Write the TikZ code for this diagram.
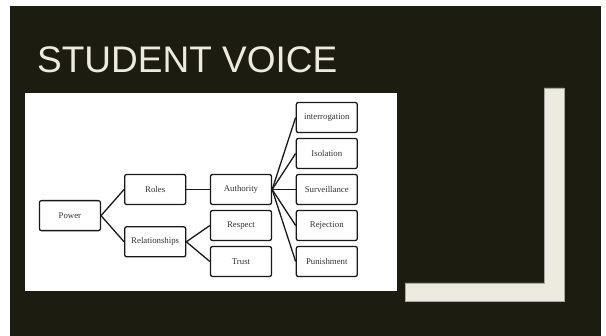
\documentclass[tikz,border=0pt]{standalone}
\usepackage{fontspec}
\setmainfont{Liberation Serif}
\newfontfamily\titlefont{Liberation Sans}
\usetikzlibrary{positioning,calc}
\definecolor{slidebg}{RGB}{28,28,16}
\definecolor{slidefg}{RGB}{237,234,224}
\tikzstyle{factor}=[
	rectangle,
	rounded corners=2pt,
	line width=1.3pt,
	draw=black!90,
	fill=white,
	text=black!80,
	minimum width=61pt,
	minimum height=30pt,
	inner sep=1pt,
	font=\fontsize{8.8}{10}\selectfont,
	node distance=4.7pt and 23.5pt
]
\tikzstyle{link}=[
	line width=1.3pt,
	draw=black!90
]

\begin{document}
\begin{tikzpicture}[x=1pt,y=-1pt]
\useasboundingbox (0,0) rectangle (606,336);
\fill [white] (0,0) rectangle (606,336);
\fill [slidebg] (10,6) rectangle (601,336);
\node [anchor=base west, inner sep=0pt, text=slidefg,
	font=\titlefont\fontsize{37}{40}\selectfont] (title) at (37,73) {STUDENT VOICE};
\fill [white] (25,93) rectangle (397,291);
\filldraw [fill=slidefg, draw=gray!70, line width=0.6pt]
	(544,88) -- (564,88) -- (564,301) -- (405,301) -- (405,283) -- (544,283) -- cycle;

% middle and right columns
\node [factor] (Authority) at (241,189.5) {Authority};
\node [factor] (Surveillance)[right=of Authority] {Surveillance};
\node [factor] (Isolation)[above=of Surveillance] {Isolation};
\node [factor] (Interrogation)[above=of Isolation] {interrogation};
\node [factor] (Rejection)[below=of Surveillance] {Rejection};
\node [factor] (Punishment)[below=of Rejection] {Punishment};
\node [factor] (Respect)[below=of Authority] {Respect};
\node [factor] (Trust)[below=of Respect] {Trust};

% left columns
\node [factor] (Roles)[left=of Authority] {Roles};
\node [factor] (Relationships)[below=21pt of Roles] {Relationships};
\coordinate (RolesMid) at ($(Roles.west)!0.5!(Relationships.west)$);
\node [factor] (Power)[left=23pt of RolesMid] {Power};

\path (Power.east) edge [link] (Roles.west)
	edge [link] (Relationships.west);
\path (Roles.east) edge [link] (Authority.west);
\path (Relationships.east) edge [link] (Respect.west)
	edge [link] (Trust.west);
\path (Authority.east) edge [link] (Interrogation.west)
	edge [link] (Isolation.west)
	edge [link] (Surveillance.west)
	edge [link] (Rejection.west)
	edge [link] (Punishment.west);
\end{tikzpicture}
\end{document}
